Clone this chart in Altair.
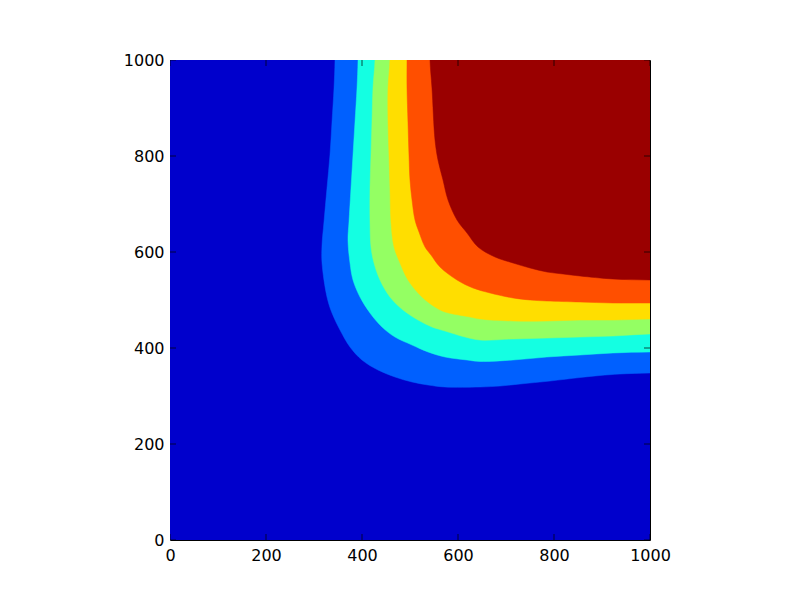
import altair as alt
import pandas as pd

# ---- values -------------------------------------------------------------
tick_values = [0, 200, 400, 600, 800, 1000]

# colours of the filled bands, lowest level first (jet colormap)
band_colors = ["#0000CC", "#0060FF", "#14FFE2", "#94FF63", "#FFDE00", "#FF4F00", "#9A0000"]

# plot domain
domain_min = 0
domain_max = 1000
outside = 1100  # closing corner of the band polygons, beyond the clipped plot area

# contour boundaries, each traced from the top edge round to the right edge
b1_x = [343.75, 341.7, 337.5, 333.3, 327.1, 320.8, 316.7, 316.7, 327.1, 337.5, 354.2, 375.0,
        400.0, 433.3, 468.75, 504.2, 537.5, 572.9, 645.8, 687.5, 729.2, 791.7, 854.2, 895.8,
        937.5, 1000.0]
b1_y = [1000.0, 941.7, 870.8, 802.1, 733.3, 662.5, 614.6, 577.1, 506.25, 472.9, 437.5, 402.1,
        375.0, 354.2, 339.6, 329.2, 322.9, 318.75, 318.75, 320.8, 325.0, 331.25, 338.5, 342.7,
        345.8, 347.9]

b2_x = [391.7, 389.6, 385.4, 381.25, 377.1, 372.9, 370.8, 375.0, 381.25, 395.8, 416.7, 441.7,
        468.75, 504.2, 537.5, 572.9, 618.75, 645.8, 714.6, 785.4, 854.2, 922.9, 1000.0]
b2_y = [1000.0, 941.7, 870.8, 802.1, 733.3, 662.5, 625.0, 577.1, 541.7, 506.25, 472.9, 443.75,
        422.9, 406.25, 391.7, 381.25, 375.0, 371.9, 375.0, 381.25, 385.4, 389.6, 391.7]

b3_x = [427.1, 422.9, 420.8, 418.75, 416.7, 416.7, 418.75, 425.0, 437.5, 458.3, 485.4, 516.7,
        545.8, 572.9, 614.6, 645.8, 714.6, 785.4, 854.2, 922.9, 1000.0]
b3_y = [1000.0, 941.7, 870.8, 802.1, 733.3, 662.5, 610.4, 577.1, 541.7, 506.25, 479.2, 458.3,
        443.75, 435.4, 422.9, 416.7, 418.75, 420.8, 422.9, 425.0, 429.2]

b4_x = [458.3, 454.2, 454.2, 456.25, 458.3, 460.4, 466.7, 479.2, 495.8, 525.0, 552.1, 572.9,
        625.0, 645.8, 714.6, 785.4, 854.2, 922.9, 1000.0]
b4_y = [1000.0, 941.7, 870.8, 802.1, 733.3, 662.5, 610.4, 577.1, 541.7, 506.25, 485.4, 475.0,
        464.6, 460.4, 456.25, 456.25, 458.3, 458.3, 460.4]

b5_x = [493.75, 493.75, 495.8, 497.9, 500.0, 504.2, 510.4, 518.75, 531.25, 543.75, 562.5, 597.9,
        631.25, 666.7, 714.6, 750.0, 785.4, 854.2, 922.9, 1000.0]
b5_y = [1000.0, 941.7, 870.8, 802.1, 750.0, 708.3, 666.7, 641.7, 610.4, 593.75, 568.75, 541.7,
        525.0, 514.6, 504.2, 500.0, 497.9, 495.8, 493.75, 493.75]

b6_x = [541.7, 545.8, 552.1, 558.3, 568.75, 579.2, 597.9, 618.75, 641.7, 677.1, 714.6, 750.0,
        785.4, 818.75, 854.2, 922.9, 1000.0]
b6_y = [1000.0, 941.7, 833.3, 791.7, 750.0, 708.3, 666.7, 639.6, 610.4, 589.6, 577.1, 566.7,
        558.3, 554.2, 550.0, 543.75, 541.7]

boundaries = [(b1_x, b1_y), (b2_x, b2_y), (b3_x, b3_y), (b4_x, b4_y), (b5_x, b5_y), (b6_x, b6_y)]

# ---- tables ---------------------------------------------------------------
rows = []
for lvl, (xs_, ys_) in enumerate(boundaries, start=1):
    pts = ([(xs_[0], outside)] + list(zip(xs_, ys_))
           + [(outside, ys_[-1]), (outside, outside)])
    for i, (px, py) in enumerate(pts):
        rows.append({"level": lvl, "i": i, "x": px, "y": py})
poly = pd.DataFrame(rows)

bg_df = pd.DataFrame({"x0": [domain_min], "x1": [domain_max], "y0": [domain_min], "y1": [domain_max]})

xtick_df = pd.DataFrame({"x": tick_values * 2, "y": [domain_min] * 6 + [domain_max] * 6})
ytick_df = pd.DataFrame({"y": tick_values * 2, "x": [domain_min] * 6 + [domain_max] * 6})

xscale = alt.Scale(domain=[domain_min, domain_max], nice=False, zero=False)
yscale = alt.Scale(domain=[domain_min, domain_max], nice=False, zero=False)

xaxis = alt.Axis(values=tick_values, title="", labelFlush=False, labelOverlap=False,
                 labelPadding=7, format="d")
yaxis = alt.Axis(values=tick_values, title="", labelFlush=False, labelOverlap=False,
                 labelPadding=6, format="d")

bg = alt.Chart(bg_df).mark_rect(color=band_colors[0]).encode(
    x=alt.X("x0:Q", scale=xscale, axis=xaxis),
    x2="x1:Q",
    y=alt.Y("y0:Q", scale=yscale, axis=yaxis),
    y2="y1:Q",
)

layers = [bg]
for lvl in range(1, 7):
    c = band_colors[lvl]
    layers.append(
        alt.Chart(poly)
        .transform_filter(alt.datum.level == lvl)
        .mark_line(fill=c, stroke=c, strokeWidth=0.5, clip=True, interpolate="catmull-rom")
        .encode(
            x=alt.X("x:Q", scale=xscale, axis=xaxis),
            y=alt.Y("y:Q", scale=yscale, axis=yaxis),
            order="i:Q",
        )
    )

xticks = alt.Chart(xtick_df).mark_tick(orient="vertical", size=12, thickness=1,
                                        color="black", clip=True).encode(
    x=alt.X("x:Q", scale=xscale, axis=xaxis),
    y=alt.Y("y:Q", scale=yscale, axis=yaxis),
)
yticks = alt.Chart(ytick_df).mark_tick(orient="horizontal", size=12, thickness=1,
                                        color="black", clip=True).encode(
    x=alt.X("x:Q", scale=xscale, axis=xaxis),
    y=alt.Y("y:Q", scale=yscale, axis=yaxis),
)
layers += [xticks, yticks]

chart = (
    alt.layer(*layers)
    .properties(
        width=480,
        height=480,
        autosize=alt.AutoSizeParams(type="none"),
        padding={"left": 162, "top": 52, "right": 142, "bottom": 52},
        background="white",
    )
    .configure_view(stroke="black", strokeWidth=1)
    .configure_axis(
        labelFont="DejaVu Sans",
        labelFontSize=16,
        labelColor="black",
        domain=False,
        ticks=False,
        grid=False,
    )
)

chart.save("out.html", embed_options={"renderer": "svg", "actions": False})
